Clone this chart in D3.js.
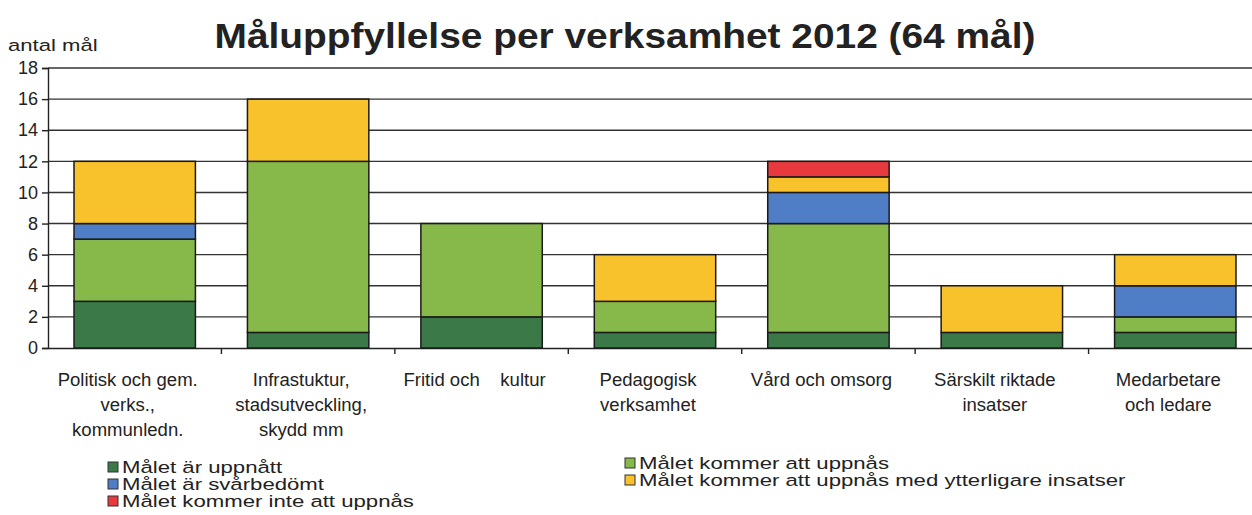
<!DOCTYPE html>
<html>
<head>
<meta charset="utf-8">
<script src="https://cdn.jsdelivr.net/npm/d3@7"></script>
<style>
  body { margin: 0; background: #fff; }
  svg { display: block; font-family: "Liberation Sans", Arial, sans-serif; }
</style>
</head>
<body>
<div id="chart"></div>
<script>
// Data
const categories = ['Politisk och gem.|verks.,|kommunledn.', 'Infrastuktur,|stadsutveckling,|skydd mm',
  'Fritid och    kultur', 'Pedagogisk|verksamhet', 'Vård och omsorg', 'Särskilt riktade|insatser', 'Medarbetare|och ledare'];
const uppnatt     = [3, 1, 2, 1, 1, 1, 1];
const kommer      = [4, 11, 6, 2, 7, 0, 1];
const svarbedomt  = [1, 0, 0, 0, 2, 0, 2];
const ytterligare = [4, 4, 0, 3, 1, 3, 2];
const inte        = [0, 0, 0, 0, 1, 0, 0];
const yTicks = [0, 2, 4, 6, 8, 10, 12, 14, 16, 18];

const keys = ['uppnatt', 'kommer', 'svarbedomt', 'ytterligare', 'inte'];
const seriesNames = {
  uppnatt: 'Målet är uppnått',
  kommer: 'Målet kommer att uppnås',
  svarbedomt: 'Målet är svårbedömt',
  ytterligare: 'Målet kommer att uppnås med ytterligare insatser',
  inte: 'Målet kommer inte att uppnås'
};
const colors = {
  uppnatt: '#3b7a48', kommer: '#86b84a', svarbedomt: '#4f7ec6',
  ytterligare: '#f8c22c', inte: '#e8393e'
};

const data = categories.map((c, i) => ({
  cat: c, uppnatt: uppnatt[i], kommer: kommer[i], svarbedomt: svarbedomt[i],
  ytterligare: ytterligare[i], inte: inte[i]
}));

const W = 1252, H = 515;
const margin = {top: 68, left: 48, right: -10, bottom: 167};
const width = W - margin.left - margin.right,
      height = H - margin.top - margin.bottom;

const svg = d3.select('#chart').append('svg').attr('width', W).attr('height', H);

svg.append('text').attr('transform', 'translate(625,48) scale(1.08,1)').attr('text-anchor', 'middle')
  .style('font-size', '36px').style('font-weight', 'bold').attr('fill', '#222')
  .text('Måluppfyllelse per verksamhet 2012 (64 mål)');

svg.append('text').attr('transform', 'translate(8,51) scale(1.3,1)').style('font-size', '17px').attr('fill', '#222')
  .text('antal mål');

const g = svg.append('g').attr('transform', `translate(${margin.left},${margin.top})`);

const x = d3.scaleBand().domain(categories).range([0, width]).paddingInner(0.3).paddingOuter(0.15);
const y = d3.scaleLinear().domain([0, 18]).range([height, 0]);

// grid
g.append('g').selectAll('line').data(yTicks.filter(d => d > 0)).enter().append('line')
  .attr('x1', 0).attr('x2', width).attr('y1', d => y(d)).attr('y2', d => y(d))
  .attr('stroke', '#333').attr('stroke-width', 1.4);

// y axis
const yAxis = g.append('g').call(d3.axisLeft(y).tickValues(yTicks).tickSize(6).tickPadding(4));
yAxis.select('.domain').attr('stroke', '#222').attr('stroke-width', 1.4);
yAxis.selectAll('.tick line').attr('stroke', '#222').attr('stroke-width', 1.4);
yAxis.selectAll('text').style('font-size', '18px').attr('fill', '#222')
  .style('font-family', '"Liberation Sans", Arial, sans-serif');

// x axis
const xAxis = g.append('g').attr('transform', `translate(0,${height})`)
  .call(d3.axisBottom(x).tickSize(0).tickFormat(''));
xAxis.select('.domain').attr('stroke', '#222').attr('stroke-width', 1.4);
const bandEdge = i => i * width / categories.length;
g.append('g').selectAll('line').data(categories.slice(1)).enter().append('line')
  .attr('x1', (d, i) => bandEdge(i + 1)).attr('x2', (d, i) => bandEdge(i + 1))
  .attr('y1', height).attr('y2', height + 6).attr('stroke', '#222').attr('stroke-width', 1.4);

// bars
const stacked = d3.stack().keys(keys)(data);
g.append('g').selectAll('g').data(stacked).enter().append('g')
  .attr('fill', d => colors[d.key])
  .selectAll('rect').data(d => d.filter(v => v[1] > v[0])).enter().append('rect')
  .attr('x', d => x(d.data.cat))
  .attr('width', x.bandwidth())
  .attr('y', d => y(d[1]))
  .attr('height', d => y(d[0]) - y(d[1]))
  .attr('stroke', '#1a1a1a').attr('stroke-width', 1.5);

// category labels
const labels = g.append('g').attr('transform', `translate(0,${height})`);
categories.forEach(c => {
  const lines = c.split('|');
  const cx = x(c) + x.bandwidth() / 2 - 7;
  const t = labels.append('text').attr('text-anchor', 'middle')
    .attr('transform', `translate(${cx},0) scale(1.06,1)`)
    .style('font-size', '17.5px').attr('fill', '#222').style('white-space', 'pre');
  lines.forEach((l, i) => {
    t.append('tspan').attr('x', 0).attr('y', 38 + i * 25).text(l);
  });
});

// legend
const legendItems = [
  {k: 'uppnatt', x: 108, y: 467}, {k: 'svarbedomt', x: 108, y: 484}, {k: 'inte', x: 108, y: 501},
  {k: 'kommer', x: 625, y: 463}, {k: 'ytterligare', x: 625, y: 480}
];
const leg = svg.append('g').selectAll('g').data(legendItems).enter().append('g')
  .attr('transform', d => `translate(${d.x},${d.y})`);
leg.append('rect').attr('x', 0).attr('y', -5).attr('width', 10).attr('height', 10)
  .attr('fill', d => colors[d.k]).attr('stroke', '#333').attr('stroke-width', 1);
leg.append('text').attr('transform', 'translate(14,6) scale(1.32,1)').style('font-size', '16.8px').attr('fill', '#222')
  .text(d => seriesNames[d.k]);
</script>
</body>
</html>
